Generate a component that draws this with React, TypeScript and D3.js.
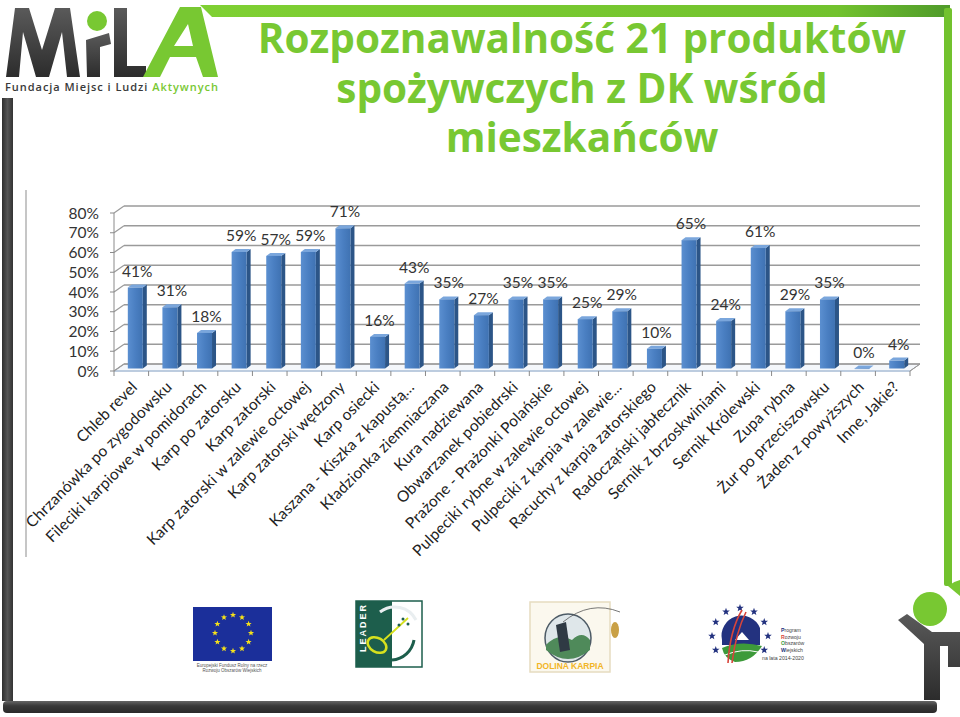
import React from "react";
import * as d3 from "d3";

const categories = [
  "Chleb revel",
  "Chrzanówka po zygodowsku",
  "Fileciki karpiowe w pomidorach",
  "Karp po zatorsku",
  "Karp zatorski",
  "Karp zatorski w zalewie octowej",
  "Karp zatorski wędzony",
  "Karp osiecki",
  "Kaszana - Kiszka z kapustą...",
  "Kładzionka ziemniaczana",
  "Kura nadziewana",
  "Obwarzanek pobiedrski",
  "Prażone - Prażonki Polańskie",
  "Pulpeciki rybne w zalewie octowej",
  "Pulpeciki z karpia w zalewie...",
  "Racuchy z karpia zatorskiego",
  "Radocząński jabłecznik",
  "Sernik z brzoskwiniami",
  "Sernik Królewski",
  "Zupa rybna",
  "Żur po przeciszowsku",
  "Żaden z powyższych",
  "Inne, Jakie?",
];
const values = [41, 31, 18, 59, 57, 59, 71, 16, 43, 35, 27, 35, 35, 25, 29, 10, 65, 24, 61, 29, 35, 0, 4];
const yTicks = [0, 10, 20, 30, 40, 50, 60, 70, 80];
const titleLines = ["Rozpoznawalność 21 produktów", "spożywczych z DK wśród", "mieszkańców"];

const GREEN = "#78c832";
const CHART_FONT = "Lato, 'Open Sans', sans-serif";

export default function App() {
  const x0 = 114;
  const x1 = 910;
  const depthX = 10;
  const depthY = -7;
  const x = d3.scaleBand<string>().domain(categories).range([x0, x1]).padding(0);
  const y = d3.scaleLinear().domain([0, 80]).range([371, 213]);
  const bw = 15;
  const bdx = 4;
  const bdy = -3;

  const star = (cx: number, cy: number, r: number) => {
    const pts: string[] = [];
    for (let i = 0; i < 10; i++) {
      const a = -Math.PI / 2 + (i * Math.PI) / 5;
      const rr = i % 2 === 0 ? r : r * 0.42;
      pts.push(`${cx + rr * Math.cos(a)},${cy + rr * Math.sin(a)}`);
    }
    return pts.join(" ");
  };

  return (
    <svg width={960} height={717} style={{ position: "absolute", left: 0, top: 0, background: "#fff" }}>
      <defs>
        <linearGradient id="topbar" x1="0" x2="1" y1="0" y2="0">
          <stop offset="0" stopColor="#7fd033" />
          <stop offset="0.85" stopColor="#72c22e" />
          <stop offset="1" stopColor="#4f9a2a" />
        </linearGradient>
        <linearGradient id="darkv" x1="0" x2="1" y1="0" y2="0">
          <stop offset="0" stopColor="#2e2e2e" />
          <stop offset="0.5" stopColor="#555" />
          <stop offset="1" stopColor="#333" />
        </linearGradient>
        <linearGradient id="darkh" x1="0" x2="0" y1="0" y2="1">
          <stop offset="0" stopColor="#666" />
          <stop offset="0.4" stopColor="#3a3a3a" />
          <stop offset="1" stopColor="#2a2a2a" />
        </linearGradient>
        <linearGradient id="barFront" x1="0" x2="1" y1="0" y2="0">
          <stop offset="0" stopColor="#5b8fd0" />
          <stop offset="0.5" stopColor="#4a7fc2" />
          <stop offset="1" stopColor="#3f72b2" />
        </linearGradient>
        <linearGradient id="logoDark" x1="0" x2="0" y1="0" y2="1">
          <stop offset="0" stopColor="#5a5a5a" />
          <stop offset="1" stopColor="#2c2c2c" />
        </linearGradient>
      </defs>

      {/* slide frame */}
      <path d="M200,5 L950,5 L950,17 L212,17 Z" fill="url(#topbar)" />
      <rect x={944} y={8} width={8} height={578} fill="#72c22e" rx={2} />
      <rect x={2} y={98} width={11} height={603} fill="url(#darkv)" />
      <rect x={3} y={701} width={934} height={12} rx={4} fill="url(#darkh)" />
      <line x1={26} x2={26} y1={190} y2={557} stroke="#a0a0a0" strokeWidth={1.2} />

      {/* MILA logo */}
      <g>
        <path d="M6,77 L15,8 L29,8 L42,50 L55,8 L70,8 L80,77 L67,77 L62,32 L49,77 L36,77 L23,32 L19,77 Z" fill="url(#logoDark)" />
        <circle cx={97} cy={21} r={10} fill={GREEN} />
        <path d="M86,40 L109,33 L111,44 L100,47 L100,77 L87,77 Z" fill="url(#logoDark)" />
        <path d="M114,8 L127,8 L127,66 L146,66 L146,77 L114,77 Z" fill="url(#logoDark)" />
        <path fillRule="evenodd" d="M143,77 L180,7 L201,7 L218,77 L203,77 L196,57 L170,57 L160,77 Z M174,46 L193,46 L188,24 Z" fill={GREEN} />
        <text x={5} y={91} fontFamily="'Open Sans', sans-serif" fontSize={11} fontWeight={600} fill="#3a3a3a" textLength={213} lengthAdjust="spacing">
          Fundacja Miejsc i Ludzi <tspan fill={GREEN}>Aktywnych</tspan>
        </text>
      </g>

      {/* title */}
      <g fontFamily="'Open Sans', sans-serif" fontWeight={700} fontSize={40.5} fill={GREEN} textAnchor="middle">
        {titleLines.map((t, i) => (
          <text key={i} x={582} y={53 + i * 49.5}>{t}</text>
        ))}
      </g>

      {/* chart */}
      <g fontFamily={CHART_FONT}>
        <polygon
          points={`${x0},${y(0)} ${x1},${y(0)} ${x1 + depthX},${y(0) + depthY} ${x0 + depthX},${y(0) + depthY}`}
          fill="#f4f7fb"
          stroke="#9a9a9a"
          strokeWidth={1}
        />
        <line x1={x0} x2={x1} y1={y(0)} y2={y(0)} stroke="#b9cde6" strokeWidth={1.5} />
        {yTicks.map((t) => (
          <g key={t}>
            <line x1={x0 + depthX} x2={x1 + depthX} y1={y(t) + depthY} y2={y(t) + depthY} stroke="#9a9a9a" strokeWidth={1.4} />
            <line x1={x0} x2={x0 + depthX} y1={y(t)} y2={y(t) + depthY} stroke="#9a9a9a" strokeWidth={1.2} />
            <line x1={x0 - 4} x2={x0} y1={y(t)} y2={y(t)} stroke="#8a8a8a" strokeWidth={1} />
            <text x={99} y={y(t)} dy="0.36em" textAnchor="end" fontSize={15.5} fill="#333">{t}%</text>
          </g>
        ))}
        <line x1={x0} x2={x0} y1={y(80)} y2={y(0)} stroke="#8a8a8a" strokeWidth={1} />
        <line x1={x1} x2={x1 + depthX} y1={y(0)} y2={y(0) + depthY} stroke="#9a9a9a" strokeWidth={1} />
        {categories.map((c, i) => (
          <line key={c} x1={x0 + i * x.bandwidth()} x2={x0 + i * x.bandwidth()} y1={y(0)} y2={y(0) + 5} stroke="#8a8a8a" strokeWidth={1} />
        ))}
        <line x1={x1} x2={x1} y1={y(0)} y2={y(0) + 5} stroke="#8a8a8a" strokeWidth={1} />

        {/* bars */}
        {categories.map((c, i) => {
          const v = values[i];
          const cx = (x(c) as number) + x.bandwidth() / 2 + 4;
          const left = cx - bw / 2;
          const right = cx + bw / 2;
          const bottom = y(0) - 2.5;
          const top = y(v) - 2.5;
          return (
            <g key={c}>
              <polygon points={`${right},${top} ${right + bdx},${top + bdy} ${right + bdx},${bottom + bdy} ${right},${bottom}`} fill="#2c5587" />
              <polygon points={`${left},${top} ${left + bdx},${top + bdy} ${right + bdx},${top + bdy} ${right},${top}`} fill="#7aa6dc" />
              <rect x={left} y={top} width={bw} height={Math.max(bottom - top, 0.6)} fill="url(#barFront)" />
              <text x={cx + 2} y={top - 11} textAnchor="middle" fontSize={15.5} fill="#333">{v}%</text>
            </g>
          );
        })}

        {/* category labels */}
        {categories.map((c) => {
          const cx = (x(c) as number) + x.bandwidth() / 2 + 7;
          const cy = 388;
          return (
            <text key={c} transform={`translate(${cx},${cy}) rotate(-45)`} textAnchor="end" fontSize={15.5} letterSpacing={0.2} fill="#222">
              {c}
            </text>
          );
        })}
      </g>

      {/* EU flag */}
      <g>
        <rect x={193} y={607} width={79} height={54} fill="#1b2f9a" />
        {d3.range(12).map((i) => {
          const a = (i * Math.PI) / 6;
          return <polygon key={i} points={star(233 + 18 * Math.sin(a), 633 - 18 * Math.cos(a), 3.2)} fill="#f5e11a" />;
        })}
        <text x={232} y={667} fontSize={4.5} textAnchor="middle" fill="#555" fontFamily="sans-serif">Europejski Fundusz Rolny na rzecz</text>
        <text x={232} y={672} fontSize={4.5} textAnchor="middle" fill="#555" fontFamily="sans-serif">Rozwoju Obszarów Wiejskich</text>
      </g>

      {/* LEADER logo */}
      <g>
        <rect x={356} y={601} width={66} height={66} fill="#fff" stroke="#1d5e4c" strokeWidth={1.5} />
        <rect x={356} y={601} width={36} height={66} fill="#1d5e4c" />
        <text transform="translate(366,652) rotate(-90)" fontSize={9} fontWeight={700} fill="#fff" fontFamily="sans-serif" letterSpacing={2}>LEADER</text>
        <path d="M380,612 A24,24 0 0 1 416,620" fill="none" stroke="#e9eef0" strokeWidth={3} />
        <path d="M392,660 A24,24 0 0 0 414,640" fill="none" stroke="#1d5e4c" strokeWidth={3} />
        <ellipse cx={377} cy={645} rx={10} ry={7} transform="rotate(30 377 645)" fill="none" stroke="#d7e11e" strokeWidth={2.5} />
        <path d="M384,640 Q395,630 408,618" fill="none" stroke="#d7e11e" strokeWidth={1.8} />
        <circle cx={403} cy={619} r={1.5} fill="#1d5e4c" />
        <circle cx={408} cy={624} r={1.5} fill="#1d5e4c" />
        <circle cx={399} cy={625} r={1.5} fill="#1d5e4c" />
      </g>

      {/* Dolina Karpia logo */}
      <g>
        <rect x={530} y={602} width={80} height={70} fill="#fbf8ee" stroke="#e6dcc0" strokeWidth={1.5} />
        <ellipse cx={568} cy={638} rx={23} ry={24} fill="#dfe7ea" stroke="#4d5b66" strokeWidth={1.5} />
        <path d="M546,645 Q558,632 572,640 Q582,630 590,640 L590,650 Q568,668 546,650 Z" fill="#4f8a5a" />
        <path d="M556,625 L566,622 L570,650 L560,652 Z" fill="#2f3a44" />
        <path d="M563,622 Q590,600 620,612" fill="none" stroke="#555" strokeWidth={0.8} />
        <ellipse cx={615} cy={630} rx={4} ry={8} fill="#c9a045" />
        <text x={570} y={669} textAnchor="middle" fontSize={8.5} fontWeight={700} fill="#f2b526" fontFamily="sans-serif">DOLINA KARPIA</text>
      </g>

      {/* PROW logo */}
      <g>
        {d3.range(9).map((i) => {
          const a = (-120 + i * 30) * (Math.PI / 180);
          return <polygon key={i} points={star(740 + 28 * Math.sin(a), 636 - 28 * Math.cos(a), 4)} fill="#23327f" />;
        })}
        <path d="M722,640 A20,20 0 0 1 760,628 L760,645 L722,645 Z" fill="#23327f" />
        <path d="M735,640 L742,632 L749,640 Z" fill="#fff" />
        <path d="M722,648 Q740,640 762,646 Q752,662 735,662 Q724,658 722,648 Z" fill="#3d9a3a" />
        <path d="M725,655 Q742,648 758,652" fill="none" stroke="#fff" strokeWidth={1} />
        <path d="M728,663 Q730,630 742,610 M732,663 Q736,632 746,612" fill="none" stroke="#d8453b" strokeWidth={1.6} />
        <g fontFamily="sans-serif" fontSize={5.2} fill="#444">
          <text x={781} y={632}><tspan fill="#23327f" fontWeight={700}>P</tspan>rogram</text>
          <text x={781} y={638.5}><tspan fill="#d8453b" fontWeight={700}>R</tspan>ozwoju</text>
          <text x={781} y={645}><tspan fill="#3d9a3a" fontWeight={700}>O</tspan>bszarów</text>
          <text x={781} y={651.5}><tspan fill="#23327f" fontWeight={700}>W</tspan>iejskich</text>
          <text x={762} y={660}>na lata 2014-2020</text>
        </g>
      </g>

      {/* right person figure */}
      <g>
        <circle cx={930} cy={609} r={17} fill={GREEN} />
        <path d="M948,586 A28,28 0 0 1 960,580 L960,596 Z" fill={GREEN} />
        <path d="M898,620 L907,614 L932,632 L960,632 L960,667 L948,667 L948,646 L940,646 L940,700 L924,700 L924,644 Z" fill="url(#logoDark)" />
      </g>
    </svg>
  );
}
